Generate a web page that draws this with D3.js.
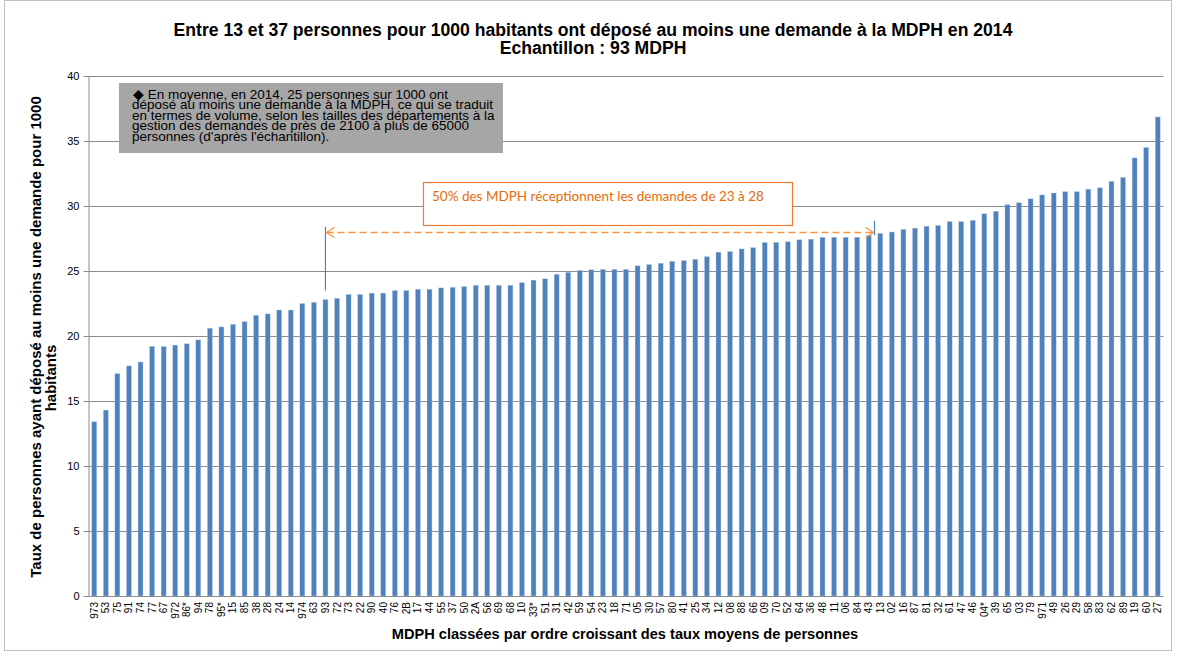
<!DOCTYPE html>
<html><head><meta charset="utf-8">
<script src="https://cdn.jsdelivr.net/npm/d3@7"></script>
<style>body{margin:0;background:#fff}svg{display:block}</style>
</head><body><svg id="c" width="1177" height="657"></svg>
<script>
const categories = [
"973","53","75","91","74","77","67","972","86*","94",
"78","95*","15","85","38","28","24","14","974","63",
"93","72","73","22","90","40","76","2B","17","44",
"55","37","50","2A","56","69","68","10","33*","51",
"31","42","59","54","23","18","71","05","30","57",
"80","41","25","34","12","08","88","66","09","70",
"52","64","36","48","11","06","84","43","13","02",
"16","87","81","32","61","47","46","04*","39","65",
"03","79","971","49","26","29","58","83","62","89",
"19","60","27"];
const values = [
13.4,14.3,17.1,17.7,18.0,19.2,19.2,19.3,19.4,19.7,
20.6,20.7,20.9,21.1,21.6,21.7,22.0,22.0,22.5,22.6,
22.8,22.9,23.2,23.2,23.3,23.3,23.5,23.5,23.6,23.6,
23.7,23.75,23.8,23.9,23.9,23.9,23.9,24.1,24.3,24.4,
24.75,24.9,25.05,25.1,25.13,25.13,25.13,25.4,25.5,25.6,
25.75,25.8,25.9,26.1,26.45,26.5,26.7,26.8,27.2,27.2,
27.25,27.4,27.45,27.6,27.6,27.6,27.6,27.75,27.9,28.0,
28.2,28.3,28.45,28.5,28.8,28.8,28.9,29.4,29.6,30.1,
30.25,30.55,30.85,31.0,31.1,31.1,31.3,31.4,31.9,32.2,
33.7,34.5,36.85];
const yTicks = [0,5,10,15,20,25,30,35,40];
const titleLines = ["Entre 13 et 37 personnes pour 1000 habitants ont déposé au moins une demande à la MDPH en 2014","Echantillon : 93 MDPH"];
const yTitleLines = ["Taux de personnes ayant déposé au moins une demande pour 1000","habitants"];
const xTitle = "MDPH classées par ordre croissant des taux moyens de personnes";
const noteLines = ["◆ En moyenne, en 2014, 25 personnes sur 1000 ont","déposé au moins une demande à la MDPH, ce qui se traduit","en termes de volume, selon les tailles des départements à la","gestion des demandes de près de 2100  à plus de 65000","personnes (d'après l'échantillon)."];
const rangeNote = "50% des MDPH réceptionnent les demandes  de 23 à 28";
const rangeFrom = "93", rangeTo = "43";

const svg = d3.select("#c");
const F = "'Liberation Sans', Arial, sans-serif";
const L = 88.5, R = 1163.5, T = 76, B = 596;

svg.append("rect").attr("x",4.5).attr("y",0.5).attr("width",1167).attr("height",650)
  .attr("fill","#fff").attr("stroke","#bfbfbf");

const x = d3.scaleBand().domain(categories).range([L,R]).paddingInner(0.57).paddingOuter(0.285);
const y = d3.scaleLinear().domain([0,40]).range([B,T]);

// gridlines
svg.append("g").selectAll("line").data(yTicks.filter(d=>d>0)).join("line")
  .attr("x1",L).attr("x2",R).attr("y1",d=>Math.round(y(d))+0.5).attr("y2",d=>Math.round(y(d))+0.5)
  .attr("stroke","#8c8c8c").attr("stroke-width",1);

// y axis
const ya = svg.append("g").attr("transform",`translate(${L},0)`)
  .call(d3.axisLeft(y).tickValues(yTicks).tickSize(5).tickPadding(4));
ya.select(".domain").attr("stroke","#8c8c8c");
ya.selectAll(".tick line").attr("stroke","#8c8c8c");
ya.selectAll("text").attr("font-family",F).attr("font-size",11).attr("fill","#000");

// bars
svg.append("g").selectAll("rect").data(values).join("rect")
  .attr("x",(d,i)=>x(categories[i])).attr("width",x.bandwidth())
  .attr("y",d=>y(d)).attr("height",d=>B-y(d))
  .attr("fill","#4f81bd").attr("stroke","#b9cde5").attr("stroke-width",0.4);

// x axis
const xa = svg.append("g").attr("transform",`translate(0,${B})`)
  .call(d3.axisBottom(x).tickSize(0).tickPadding(0));
xa.select(".domain").attr("stroke","#8c8c8c").attr("d",`M${L},0.5H${R}`);
xa.selectAll("text").attr("font-family",F).attr("font-size",10).attr("fill","#000")
  .attr("transform","rotate(-90)").attr("text-anchor","end").attr("dy","0.35em").attr("x",-6).attr("y",0);

// title
svg.append("g").selectAll("text").data(titleLines).join("text")
  .attr("x",593).attr("y",(d,i)=>36+i*18).attr("text-anchor","middle")
  .attr("font-family",F).attr("font-weight","bold").attr("font-size",17.6).text(d=>d);

// y title
svg.append("text").attr("transform","translate(41,337) rotate(-90)").attr("text-anchor","middle")
  .attr("font-family",F).attr("font-weight","bold").attr("font-size",15).text(yTitleLines[0]);
svg.append("text").attr("transform","translate(56,378) rotate(-90)").attr("text-anchor","middle")
  .attr("font-family",F).attr("font-weight","bold").attr("font-size",15).text(yTitleLines[1]);

// x title
svg.append("text").attr("x",625).attr("y",639).attr("text-anchor","middle")
  .attr("font-family",F).attr("font-weight","bold").attr("font-size",14.6).text(xTitle);

// grey note box
svg.append("rect").attr("x",119).attr("y",83).attr("width",384).attr("height",70).attr("fill","#a6a6a6");
svg.append("g").selectAll("text").data(noteLines).join("text")
  .attr("x",(d,i)=>i===0?133:132).attr("y",(d,i)=>99+i*10.4)
  .attr("font-family",F).attr("font-size",13.5).attr("fill","#000").text(d=>d);

// range annotation
const step = x.step();
const cx = c => x(c)+x.bandwidth()/2;
const xl = cx(rangeFrom), xr = cx(rangeTo)+step/2;
svg.append("rect").attr("x",423.5).attr("y",182.5).attr("width",369).attr("height",43)
  .attr("fill","#fff").attr("stroke","#ed7d31").attr("stroke-width",1.2);
svg.append("text").attr("x",432).attr("y",201).attr("font-family","Lato, 'Open Sans', sans-serif")
  .attr("font-size",13.5).attr("fill","#e46c0a").text(rangeNote);

const ay = Math.round(y(28.03))+0.5;
svg.append("line").attr("x1",xl).attr("x2",xl).attr("y1",y(28.4)).attr("y2",y(23.5))
  .attr("stroke","#4f81bd").attr("stroke-width",1.2);
svg.append("line").attr("x1",xr).attr("x2",xr).attr("y1",y(28.85)).attr("y2",y(27.75))
  .attr("stroke","#4f81bd").attr("stroke-width",1.2);
svg.append("line").attr("x1",xl+1).attr("x2",xr-1).attr("y1",ay).attr("y2",ay)
  .attr("stroke","#f79646").attr("stroke-width",1.5).attr("stroke-dasharray","7,4");
svg.append("path").attr("d",`M${xl+9},${ay-5}L${xl+1},${ay}L${xl+9},${ay+5}`)
  .attr("fill","none").attr("stroke","#f79646").attr("stroke-width",1.3);
svg.append("path").attr("d",`M${xr-9},${ay-5}L${xr-1},${ay}L${xr-9},${ay+5}`)
  .attr("fill","none").attr("stroke","#f79646").attr("stroke-width",1.3);
</script></body></html>
